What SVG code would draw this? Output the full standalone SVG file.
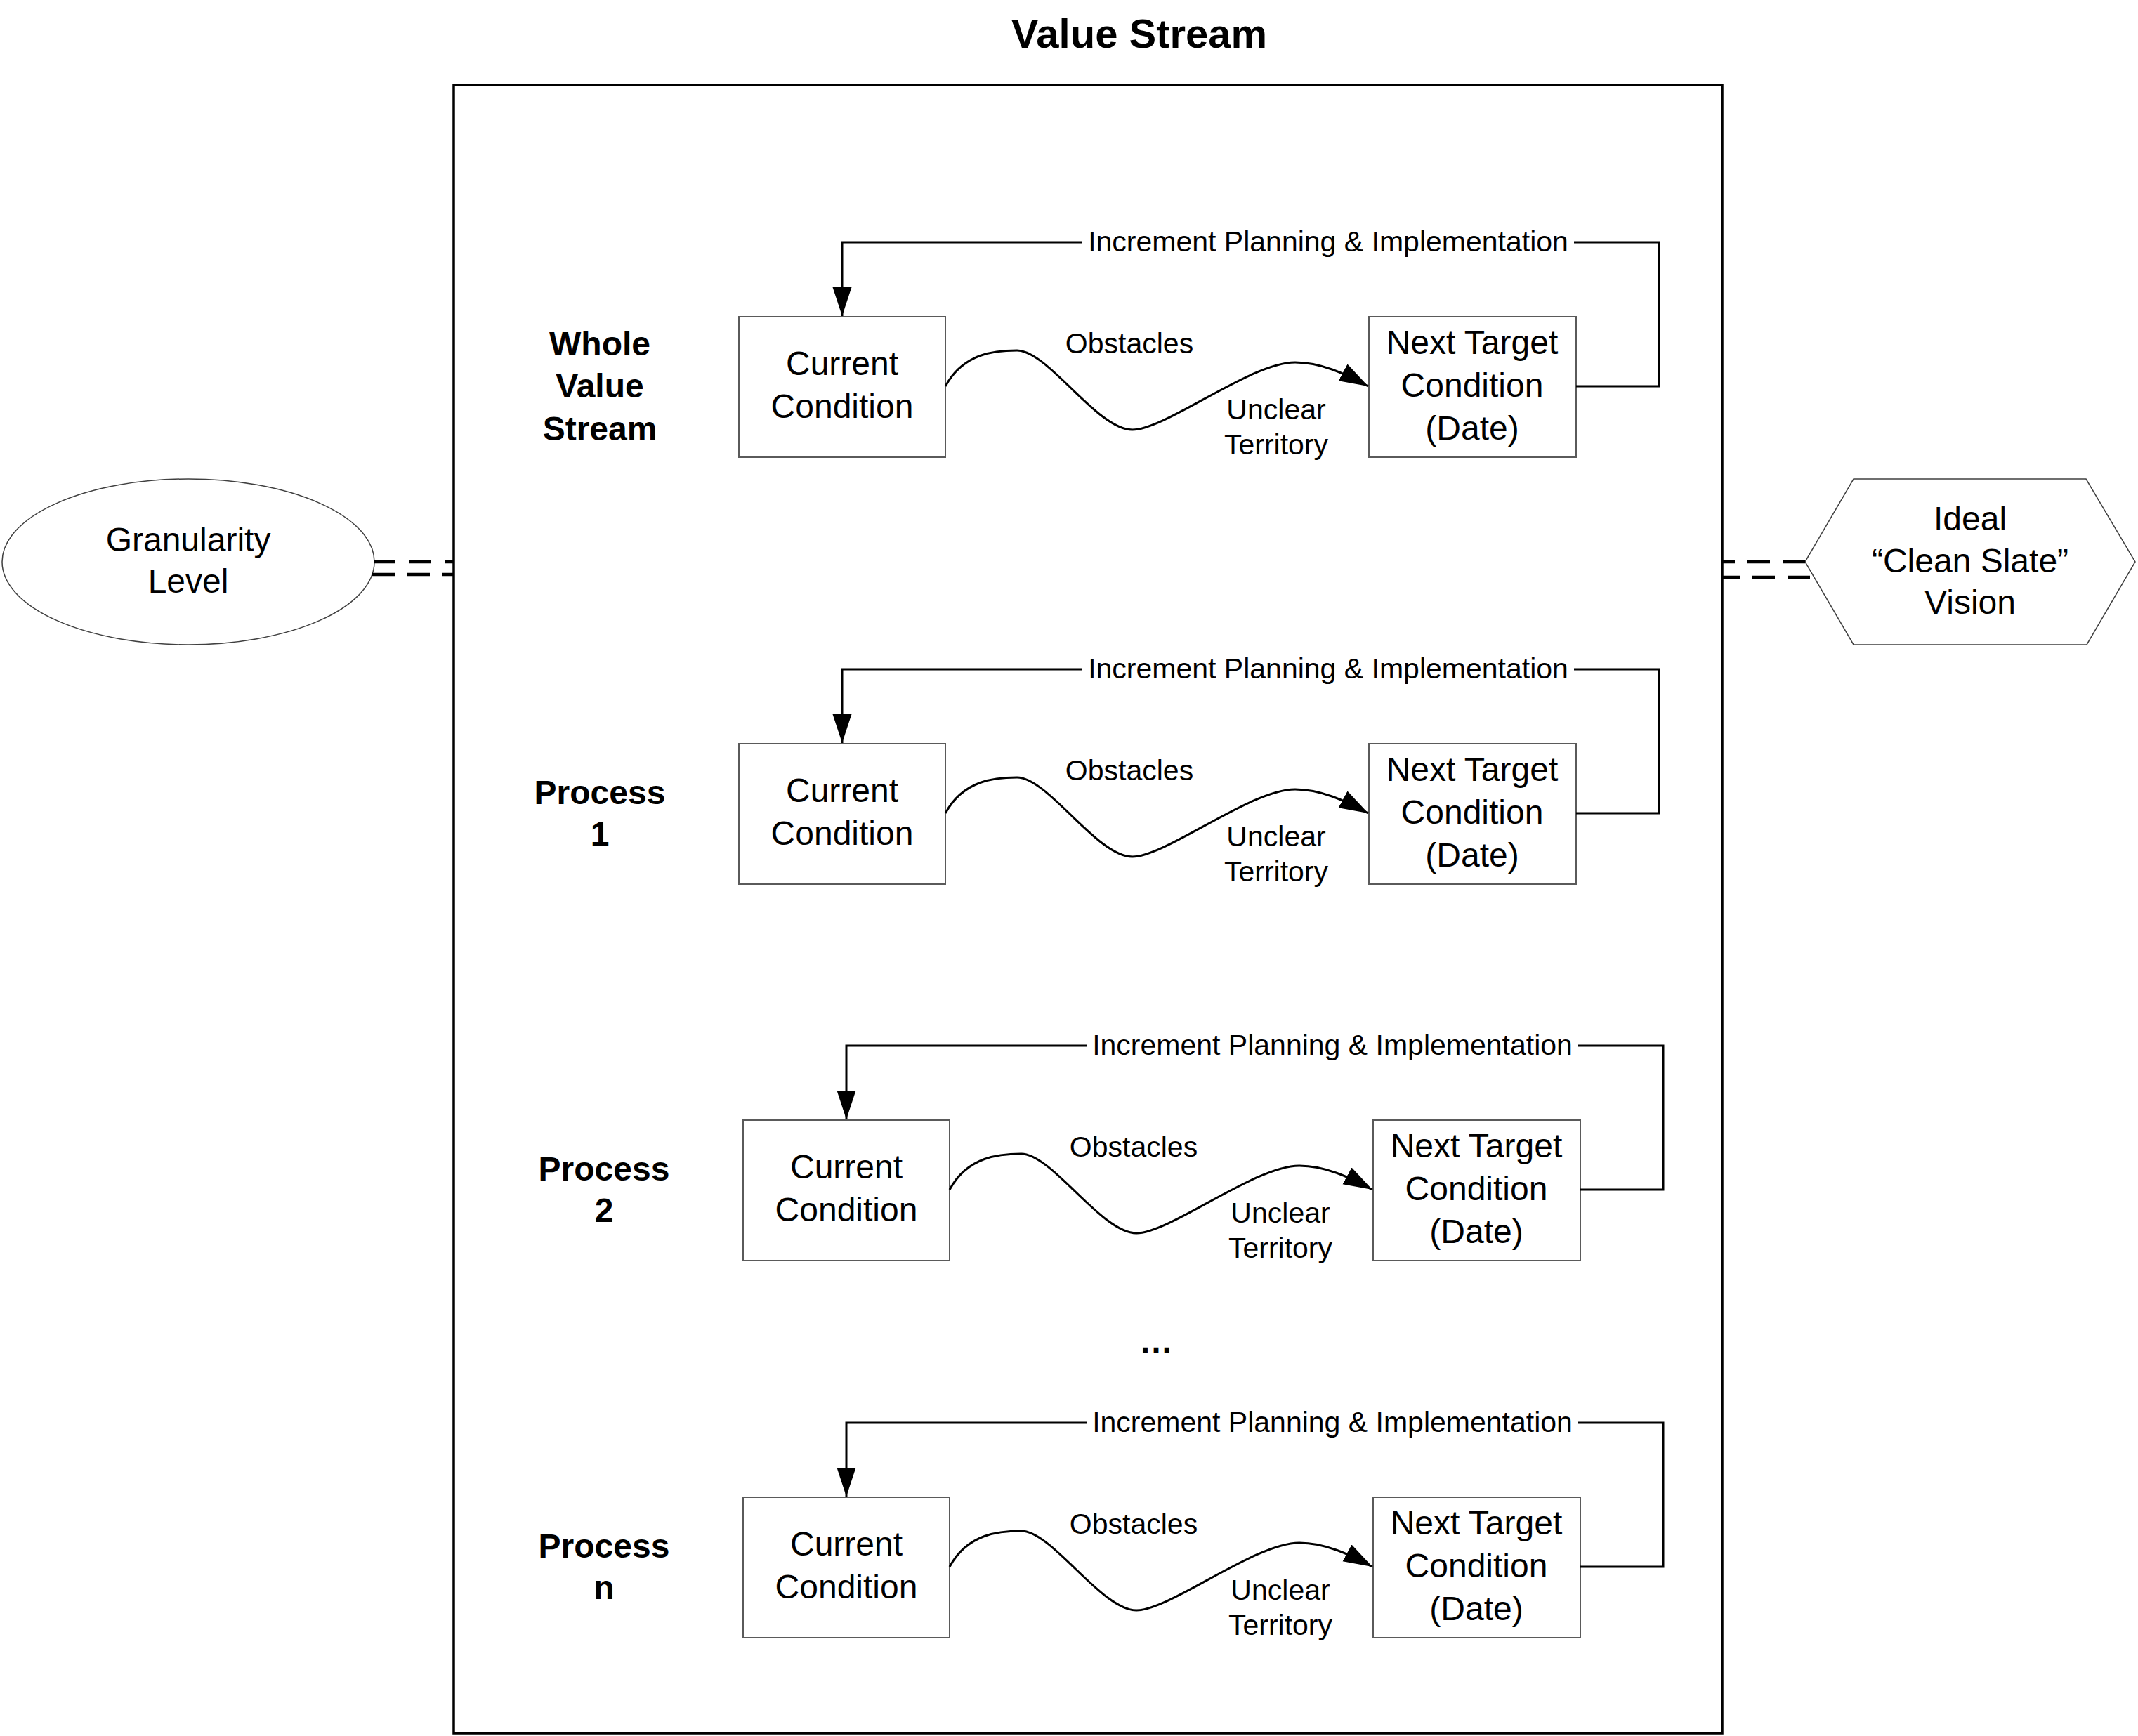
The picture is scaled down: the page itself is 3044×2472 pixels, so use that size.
<svg xmlns="http://www.w3.org/2000/svg" width="3044" height="2472" viewBox="0 0 3044 2472">
<style>
  .t { font-family: "Liberation Sans", Arial, sans-serif; fill: #000; text-anchor: middle; }
  .big { font-size: 48px; }
  .bold { font-weight: bold; }
  .lbl { font-size: 41px; }
  .box { fill: #fff; stroke: #5a5a5a; stroke-width: 2; }
  .shape { fill: #fff; stroke: #404040; stroke-width: 1.5; }
  .frame { fill: none; stroke: #000; stroke-width: 3.5; }
  .ln { fill: none; stroke: #000; stroke-width: 3; }
  .dash { fill: none; stroke: #000; stroke-width: 4.5; }
</style>
<defs>
  <marker id="arr" markerUnits="userSpaceOnUse" markerWidth="42" markerHeight="28" refX="41" refY="13.5" orient="auto">
    <path d="M0,0 L41,13.5 L0,27 z" fill="#000"/>
  </marker>
</defs>
<rect width="3044" height="2472" fill="#fff"/>

<g id="title">
  <text class="t bold" x="1622" y="68" font-size="58">Value Stream</text>
</g>

<g id="value-stream-frame">
  <rect class="frame" x="646" y="121" width="1806" height="2347"/>
</g>

<g id="granularity-level">
  <ellipse class="shape" cx="268" cy="800" rx="265" ry="118"/>
  <text class="t big" x="268" y="785">Granularity</text>
  <text class="t big" x="268" y="844">Level</text>
</g>

<g id="ideal-vision">
  <polygon class="shape" points="2570,800 2639,682 2970,682 3040,800 2971,918 2639,918"/>
  <text class="t big" x="2805" y="755">Ideal</text>
  <text class="t big" x="2805" y="815">“Clean Slate”</text>
  <text class="t big" x="2805" y="874">Vision</text>
</g>

<!-- Row labels -->
<g id="label-whole-value-stream">
  <text class="t big bold" x="854" y="506">Whole</text>
  <text class="t big bold" x="854" y="566">Value</text>
  <text class="t big bold" x="854" y="627">Stream</text>
</g>
<g id="label-process-1" transform="translate(0,608)">
  <text class="t big bold" x="854" y="537">Process</text>
  <text class="t big bold" x="854" y="596">1</text>
</g>
<g id="label-process-2" transform="translate(6,1144)">
  <text class="t big bold" x="854" y="537">Process</text>
  <text class="t big bold" x="854" y="596">2</text>
</g>
<g id="label-process-n" transform="translate(6,1681)">
  <text class="t big bold" x="854" y="537">Process</text>
  <text class="t big bold" x="854" y="596">n</text>
</g>

<!-- Current condition nodes -->
<g id="current-1">
  <rect class="box" x="1052" y="451" width="294" height="200"/>
  <text class="t big" x="1199" y="534">Current</text>
  <text class="t big" x="1199" y="595">Condition</text>
</g>
<g id="current-2" transform="translate(0,608)">
  <rect class="box" x="1052" y="451" width="294" height="200"/>
  <text class="t big" x="1199" y="534">Current</text>
  <text class="t big" x="1199" y="595">Condition</text>
</g>
<g id="current-3" transform="translate(6,1144)">
  <rect class="box" x="1052" y="451" width="294" height="200"/>
  <text class="t big" x="1199" y="534">Current</text>
  <text class="t big" x="1199" y="595">Condition</text>
</g>
<g id="current-n" transform="translate(6,1681)">
  <rect class="box" x="1052" y="451" width="294" height="200"/>
  <text class="t big" x="1199" y="534">Current</text>
  <text class="t big" x="1199" y="595">Condition</text>
</g>

<!-- Next target nodes -->
<g id="next-1">
  <rect class="box" x="1949" y="451" width="295" height="200"/>
  <text class="t big" x="2096" y="504">Next Target</text>
  <text class="t big" x="2096" y="565">Condition</text>
  <text class="t big" x="2096" y="626">(Date)</text>
</g>
<g id="next-2" transform="translate(0,608)">
  <rect class="box" x="1949" y="451" width="295" height="200"/>
  <text class="t big" x="2096" y="504">Next Target</text>
  <text class="t big" x="2096" y="565">Condition</text>
  <text class="t big" x="2096" y="626">(Date)</text>
</g>
<g id="next-3" transform="translate(6,1144)">
  <rect class="box" x="1949" y="451" width="295" height="200"/>
  <text class="t big" x="2096" y="504">Next Target</text>
  <text class="t big" x="2096" y="565">Condition</text>
  <text class="t big" x="2096" y="626">(Date)</text>
</g>
<g id="next-n" transform="translate(6,1681)">
  <rect class="box" x="1949" y="451" width="295" height="200"/>
  <text class="t big" x="2096" y="504">Next Target</text>
  <text class="t big" x="2096" y="565">Condition</text>
  <text class="t big" x="2096" y="626">(Date)</text>
</g>

<g id="ellipsis">
  <text class="t big bold" x="1646" y="1926">…</text>
</g>

<g id="connectors">
  <!-- dashed links -->
  <path class="dash" d="M533,800 H646" stroke-dasharray="30 20"/>
  <path class="dash" d="M530,818 H646" stroke-dasharray="32 18"/>
  <path class="dash" d="M2570,800 H2452" stroke-dasharray="32 18"/>
  <path class="dash" d="M2577,822 H2452" stroke-dasharray="32 18"/>

  <g id="row-1-links">
    <path class="ln" d="M2244,550 H2362 V345 H2241"/>
    <path class="ln" d="M1541,345 H1199 V450" marker-end="url(#arr)"/>
    <text class="t lbl" x="1891" y="358">Increment Planning &amp; Implementation</text>
    <path class="ln" d="M1346,550 C1372,502 1418,499 1448,499 C1492,499 1562,612 1612,612 C1660,612 1780,516 1844,516 C1880,516 1915,532 1948,550" marker-end="url(#arr)"/>
    <text class="t lbl" x="1608" y="503">Obstacles</text>
    <text class="t lbl" x="1817" y="597">Unclear</text>
    <text class="t lbl" x="1817" y="647">Territory</text>
  </g>
  <g id="row-2-links" transform="translate(0,608)">
    <path class="ln" d="M2244,550 H2362 V345 H2241"/>
    <path class="ln" d="M1541,345 H1199 V450" marker-end="url(#arr)"/>
    <text class="t lbl" x="1891" y="358">Increment Planning &amp; Implementation</text>
    <path class="ln" d="M1346,550 C1372,502 1418,499 1448,499 C1492,499 1562,612 1612,612 C1660,612 1780,516 1844,516 C1880,516 1915,532 1948,550" marker-end="url(#arr)"/>
    <text class="t lbl" x="1608" y="503">Obstacles</text>
    <text class="t lbl" x="1817" y="597">Unclear</text>
    <text class="t lbl" x="1817" y="647">Territory</text>
  </g>
  <g id="row-3-links" transform="translate(6,1144)">
    <path class="ln" d="M2244,550 H2362 V345 H2241"/>
    <path class="ln" d="M1541,345 H1199 V450" marker-end="url(#arr)"/>
    <text class="t lbl" x="1891" y="358">Increment Planning &amp; Implementation</text>
    <path class="ln" d="M1346,550 C1372,502 1418,499 1448,499 C1492,499 1562,612 1612,612 C1660,612 1780,516 1844,516 C1880,516 1915,532 1948,550" marker-end="url(#arr)"/>
    <text class="t lbl" x="1608" y="503">Obstacles</text>
    <text class="t lbl" x="1817" y="597">Unclear</text>
    <text class="t lbl" x="1817" y="647">Territory</text>
  </g>
  <g id="row-n-links" transform="translate(6,1681)">
    <path class="ln" d="M2244,550 H2362 V345 H2241"/>
    <path class="ln" d="M1541,345 H1199 V450" marker-end="url(#arr)"/>
    <text class="t lbl" x="1891" y="358">Increment Planning &amp; Implementation</text>
    <path class="ln" d="M1346,550 C1372,502 1418,499 1448,499 C1492,499 1562,612 1612,612 C1660,612 1780,516 1844,516 C1880,516 1915,532 1948,550" marker-end="url(#arr)"/>
    <text class="t lbl" x="1608" y="503">Obstacles</text>
    <text class="t lbl" x="1817" y="597">Unclear</text>
    <text class="t lbl" x="1817" y="647">Territory</text>
  </g>
</g>
</svg>
